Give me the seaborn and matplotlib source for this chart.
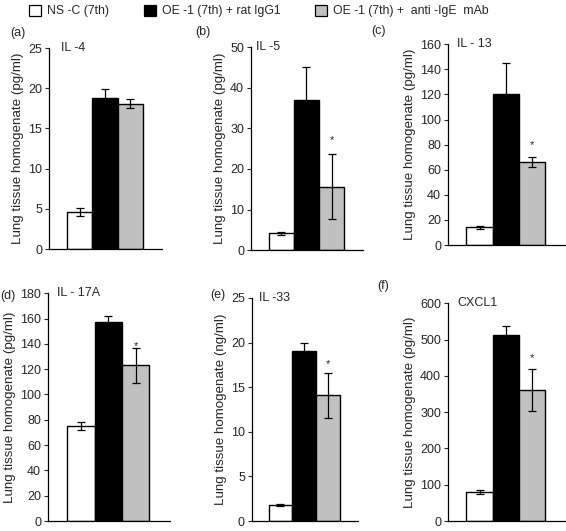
import matplotlib
matplotlib.use("Agg")
import matplotlib.pyplot as plt
import seaborn as sns
import pandas as pd
from matplotlib.patches import Patch

sns.set_style("white")
plt.rcParams['font.family'] = ['Liberation Sans', 'DejaVu Sans']

groups = ["NS -C (7th)", "OE -1 (7th) + rat IgG1", "OE -1 (7th) +  anti -IgE  mAb"]
colors = ["white", "black", "#c0c0c0"]

titles = ["IL -4", "IL -5", "IL - 13", "IL - 17A", "IL -33", "CXCL1"]
letters = ["(a)", "(b)", "(c)", "(d)", "(e)", "(f)"]
units = ["(pg/ml)", "(pg/ml)", "(pg/ml)", "(pg/ml)", "(ng/ml)", "(pg/ml)"]

il4_mean = [4.6, 18.8, 18.1]
il4_err = [0.5, 1.1, 0.6]
il5_mean = [4.1, 37.0, 15.6]
il5_err = [0.3, 8.0, 8.0]
il13_mean = [14.0, 120.0, 66.0]
il13_err = [1.0, 25.0, 4.0]
il17_mean = [75.0, 157.0, 123.0]
il17_err = [3.0, 5.0, 14.0]
il33_mean = [1.8, 19.1, 14.1]
il33_err = [0.1, 0.9, 2.5]
cxcl1_mean = [80.0, 513.0, 360.0]
cxcl1_err = [6.0, 25.0, 58.0]

means = [il4_mean, il5_mean, il13_mean, il17_mean, il33_mean, cxcl1_mean]
errs = [il4_err, il5_err, il13_err, il17_err, il33_err, cxcl1_err]

ymax = [25, 50, 160, 180, 25, 600]
ystep = [5, 10, 20, 20, 5, 100]
# asterisk (significance) heights, None = no asterisk
star_y = [None, 27.8, 82, 141, 18.0, 457]

# axes rectangles [left, bottom, width, height] in figure fraction
rects = [
    [0.0866, 0.531, 0.200, 0.3785],
    [0.4435, 0.529, 0.198, 0.3823],
    [0.7915, 0.5386, 0.2067, 0.378],
    [0.0848, 0.0188, 0.2155, 0.429],
    [0.445, 0.0188, 0.187, 0.420],
    [0.7915, 0.0188, 0.2067, 0.410],
]
title_off_px = [12, 5, 9, 9, 7, 9]
letter_pos = [(10, 33), (195, 32), (371, 31), (0, 296), (210, 295), (377, 286)]

fig = plt.figure(figsize=(5.66, 5.31), dpi=100)
FS = 9

for i in range(6):
    ax = fig.add_axes(rects[i])
    df = pd.DataFrame({"group": groups, "value": means[i]})
    sns.barplot(data=df, x="group", y="value", hue="group", palette=colors,
                hue_order=groups, order=groups, width=1.0, edgecolor="black",
                linewidth=1.0, errorbar=None, legend=False, ax=ax)
    ax.errorbar(x=[0, 1, 2], y=means[i], yerr=errs[i], fmt="none",
                ecolor="black", elinewidth=0.9, capsize=3.2, capthick=0.9)
    if star_y[i] is not None:
        ax.annotate("*", xy=(2, star_y[i]), xytext=(0, -4.5),
                    textcoords="offset points", ha="center", va="baseline",
                    fontsize=8)
    ax.set_xlim(-1.2, 3.25)
    ax.set_ylim(0, ymax[i])
    ax.set_yticks(list(range(0, ymax[i] + 1, ystep[i])))
    ax.set_xticks([])
    ax.set_xlabel("")
    ax.set_ylabel("Lung tissue homogenate " + units[i], fontsize=9.6, labelpad=3)
    ax.tick_params(axis="y", which="both", left=True, direction="out",
                   length=3, width=0.8, labelsize=FS, pad=2)
    for s in ["top", "right"]:
        ax.spines[s].set_visible(False)
    for s in ["left", "bottom"]:
        ax.spines[s].set_color("black")
        ax.spines[s].set_linewidth(0.9)
    ax.annotate(titles[i], xy=(0, ymax[i]), xycoords=("axes fraction", "data"),
                xytext=(title_off_px[i] * 0.72, 0), textcoords="offset points",
                ha="left", va="center", fontsize=FS)
    lx, ly = letter_pos[i]
    fig.text(lx / 566, 1 - ly / 531, letters[i], ha="left", va="center", fontsize=FS)

handles = [Patch(facecolor=c, edgecolor="black", linewidth=0.9) for c in colors]
fig.legend(handles, groups, loc="center", bbox_to_anchor=(259 / 566, 1 - 11 / 531),
           ncol=3, frameon=False, fontsize=8.8, handlelength=1.0, handleheight=1.0,
           columnspacing=2.8, handletextpad=0.5, borderaxespad=0, borderpad=0)

fig.savefig("out.png", dpi=100)
